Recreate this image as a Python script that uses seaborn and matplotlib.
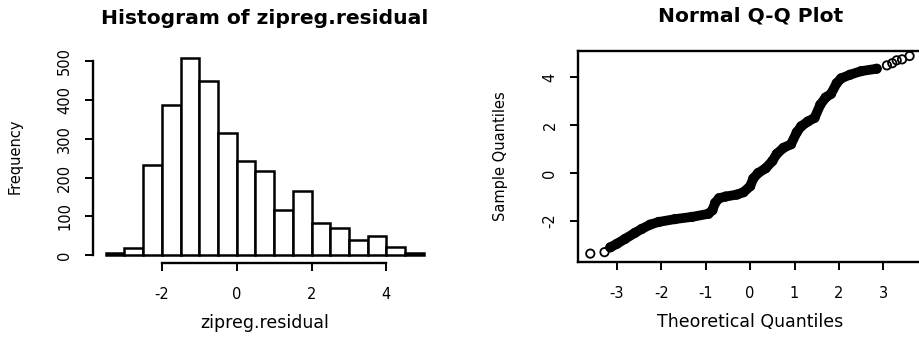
import numpy as np
import pandas as pd
import matplotlib
matplotlib.use("Agg")
import matplotlib.pyplot as plt
import seaborn as sns

# ---- data ----
bin_edges = [-3.5, -3.0, -2.5, -2.0, -1.5, -1.0, -0.5, 0.0, 0.5, 1.0, 1.5,
             2.0, 2.5, 3.0, 3.5, 4.0, 4.5, 5.0]
bin_counts = [5, 19, 232, 387, 507, 448, 315, 242, 217, 116, 165,
              83, 69, 40, 49, 20, 6]
hist_xticks = [-2, 0, 2, 4]
hist_yticks = [0, 100, 200, 300, 400, 500]

qq_theoretical = [-3.60, -3.28, -3.15, -3.00, -2.82, -2.60, -2.44, -2.25, -2.06,
                  -1.69, -1.31, -0.94, -0.85, -0.79, -0.70, -0.55, -0.30, -0.15,
                  0.00, 0.07, 0.18, 0.35, 0.50, 0.60, 0.75, 0.92, 1.05, 1.15,
                  1.30, 1.45, 1.58, 1.70, 1.82, 1.95, 2.05, 2.25, 2.50, 2.85,
                  3.08, 3.20, 3.30, 3.42, 3.59]
qq_sample = [-3.36, -3.30, -3.10, -2.95, -2.75, -2.50, -2.33, -2.15, -2.04,
             -1.92, -1.83, -1.70, -1.55, -1.25, -1.05, -0.98, -0.90, -0.80,
             -0.55, -0.23, 0.00, 0.20, 0.50, 0.80, 1.05, 1.20, 1.70, 1.95,
             2.15, 2.30, 2.85, 3.15, 3.30, 3.75, 3.95, 4.10, 4.25, 4.35,
             4.49, 4.58, 4.70, 4.74, 4.88]
qq_xticks = [-3, -2, -1, 0, 1, 2, 3]
qq_yticks = [-2, 0, 2, 4]

sns.set_style("ticks")
plt.rcParams['font.family'] = ['DejaVu Sans']
plt.rcParams['axes.unicode_minus'] = False
plt.rcParams['text.color'] = 'black'
plt.rcParams['axes.labelcolor'] = 'black'
plt.rcParams['xtick.color'] = 'black'
plt.rcParams['ytick.color'] = 'black'

W, H = 919, 338
fig = plt.figure(figsize=(W / 100, H / 100), dpi=100)

def px_axes(l, r, t, b):
    return fig.add_axes([l / W, 1 - b / H, (r - l) / W, (b - t) / H])

ax1 = px_axes(93, 436.5, 50.5, 263)
ax2 = px_axes(578.3, 922, 50.5, 262)

# ---- histogram ----
hist_df = pd.DataFrame({
    "mid": [(a + b) / 2 for a, b in zip(bin_edges[:-1], bin_edges[1:])],
    "n": bin_counts,
})
sns.histplot(data=hist_df, x="mid", weights="n", bins=bin_edges, ax=ax1,
             color="white", edgecolor="black", linewidth=1.8, alpha=1)
ax1.set_xlim(-3.84, 5.34)
ax1.set_ylim(-20.3, 527.3)
ax1.set_xticks(hist_xticks)
ax1.set_yticks(hist_yticks)
ax1.set_yticklabels([str(v) for v in hist_yticks], rotation=90, va="center")
for s in ["top", "right"]:
    ax1.spines[s].set_visible(False)
ax1.spines["left"].set_bounds(0, 500)
ax1.spines["bottom"].set_bounds(-2, 4)
ax1.set_xlabel("zipreg.residual", fontsize=12.5, color="black")
ax1.set_ylabel("Frequency", fontsize=10.5, color="black")
ax1.set_title("Histogram of zipreg.residual", fontsize=14.6, fontweight="bold",
              y=1 + 32 / 212.5, va="center", pad=0, color="black")

# ---- Q-Q plot ----
qq_df = pd.DataFrame({"theo": qq_theoretical, "samp": qq_sample})
band = qq_df[(qq_df.theo > -3.2) & (qq_df.theo < 2.95)]
sns.lineplot(data=band, x="theo", y="samp", sort=False, estimator=None,
             ax=ax2, color="black", linewidth=7, solid_capstyle="round")
sns.scatterplot(data=qq_df, x="theo", y="samp", ax=ax2, marker="o",
                facecolor="none", edgecolor="black", linewidth=1.3, s=36)
ax2.set_xlim(-3.87, 3.87)
ax2.set_ylim(-3.71, 5.11)
ax2.set_xticks(qq_xticks)
ax2.set_yticks(qq_yticks)
ax2.set_yticklabels([str(v) for v in qq_yticks], rotation=90, va="center")
ax2.set_xlabel("Theoretical Quantiles", fontsize=12.5, color="black")
ax2.set_ylabel("Sample Quantiles", fontsize=10.5, color="black")
ax2.set_title("Normal Q-Q Plot", fontsize=14.6, fontweight="bold",
              y=1 + 34.5 / 211.5, va="center", pad=0, color="black")

for ax in (ax1, ax2):
    for s in ax.spines.values():
        s.set_linewidth(1.7)
        s.set_color("black")
    ax.tick_params(axis="both", direction="out", length=6, width=1.4,
                   labelsize=10.5, colors="black")
    ax.tick_params(axis="x", pad=11)
    ax.tick_params(axis="y", pad=9)
    ax.xaxis.set_label_coords(0.5, -60 / 212.5)
    ax.xaxis.label.set_va("center")
    ax.yaxis.set_label_coords(-78 / 343.5, 0.5)
    ax.yaxis.label.set_va("center")

fig.savefig("out.png", dpi=100)
